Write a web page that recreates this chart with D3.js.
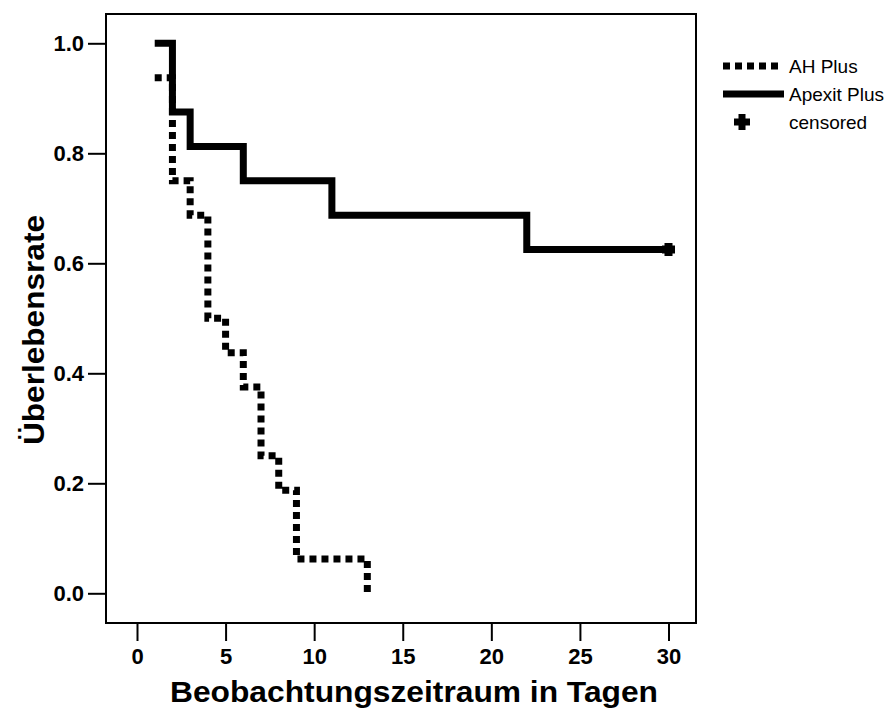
<!DOCTYPE html>
<html>
<head>
<meta charset="utf-8">
<script src="https://cdn.jsdelivr.net/npm/d3@7"></script>
<style>
  body { margin: 0; background: #fff; }
  svg { display: block; font-family: "Liberation Sans", Arial, sans-serif; }
</style>
</head>
<body>
<svg id="chart" width="890" height="708"></svg>
<script>
// ---- Data ----
const seriesNames = ["AH Plus", "Apexit Plus"];
const ahTimes = [1, 2, 3, 4, 5, 6, 7, 8, 9, 13];
const ahSurv  = [0.9375, 0.75, 0.6875, 0.5, 0.4375, 0.375, 0.25, 0.1875, 0.0625, 0.0];
const apTimes = [1, 2, 3, 6, 11, 22, 30];
const apSurv  = [1.0, 0.875, 0.8125, 0.75, 0.6875, 0.625, 0.625];
const apCensoredTimes = [30];
const apCensoredSurv  = [0.625];
const xTicks = [0, 5, 10, 15, 20, 25, 30];
const yTicks = [0.0, 0.2, 0.4, 0.6, 0.8, 1.0];
const xTitle = "Beobachtungszeitraum in Tagen";
const yTitle = "Überlebensrate";
const legendLabels = ["AH Plus", "Apexit Plus", "censored"];

// ---- Layout ----
const svg = d3.select("#chart");
const frame = { left: 106, top: 14, right: 696, bottom: 623 };
const x = d3.scaleLinear().domain([0, 30]).range([137, 668.5]);
const y = d3.scaleLinear().domain([0, 1]).range([593.3, 43.3]);
const font = "Liberation Sans, Arial, sans-serif";

// frame
svg.append("rect")
  .attr("x", frame.left).attr("y", frame.top)
  .attr("width", frame.right - frame.left).attr("height", frame.bottom - frame.top)
  .attr("fill", "none").attr("stroke", "#000").attr("stroke-width", 2);

// x axis
const xAxis = d3.axisBottom(x).tickValues(xTicks).tickFormat(d3.format("d"))
  .tickSize(18).tickPadding(7);
const gx = svg.append("g").attr("transform", `translate(0,${frame.bottom})`).call(xAxis);
gx.select(".domain").remove();
gx.selectAll(".tick line").attr("stroke", "#000").attr("stroke-width", 2);
gx.selectAll(".tick text").attr("font-size", 22).attr("font-weight", "bold")
  .attr("font-family", font).attr("fill", "#000");

// y axis
const yAxis = d3.axisLeft(y).tickValues(yTicks).tickFormat(d3.format(".1f"))
  .tickSize(18).tickPadding(4);
const gy = svg.append("g").attr("transform", `translate(${frame.left},0)`).call(yAxis);
gy.select(".domain").remove();
gy.selectAll(".tick line").attr("stroke", "#000").attr("stroke-width", 2);
gy.selectAll(".tick text").attr("font-size", 22).attr("font-weight", "bold")
  .attr("font-family", font).attr("fill", "#000");

// titles
svg.append("text").attr("x", 414).attr("y", 702)
  .attr("text-anchor", "middle").attr("font-size", 29).attr("font-weight", "bold")
  .attr("textLength", 488).attr("lengthAdjust", "spacingAndGlyphs")
  .text(xTitle);
svg.append("text").attr("transform", "translate(44,330) rotate(-90)")
  .attr("text-anchor", "middle").attr("font-size", 29).attr("font-weight", "bold")
  .attr("textLength", 230).attr("lengthAdjust", "spacingAndGlyphs")
  .text(yTitle);

// lines
const line = d3.line().x(d => x(d[0])).y(d => y(d[1])).curve(d3.curveStepAfter);
const ahData = d3.zip(ahTimes, ahSurv);
const apData = d3.zip(apTimes, apSurv);

svg.append("path").datum(apData).attr("d", line)
  .attr("fill", "none").attr("stroke", "#000").attr("stroke-width", 7)
  .attr("stroke-linejoin", "miter");
svg.append("path").datum(ahData).attr("d", line)
  .attr("fill", "none").attr("stroke", "#000").attr("stroke-width", 7)
  .attr("stroke-dasharray", "7,5").attr("stroke-linejoin", "miter");

// plus marker path
function plusPath(w, t) {
  const a = w / 2, b = t / 2;
  return `M${-b},${-a}H${b}V${-b}H${a}V${b}H${b}V${a}H${-b}V${b}H${-a}V${-b}H${-b}Z`;
}

// censored marks
svg.selectAll(".cens").data(d3.zip(apCensoredTimes, apCensoredSurv)).enter()
  .append("path").attr("class", "cens")
  .attr("transform", d => `translate(${x(d[0])},${y(d[1])})`)
  .attr("d", plusPath(13, 8)).attr("fill", "#000");

// legend
const lg = svg.append("g");
const rows = [66, 94, 122];
lg.append("line").attr("x1", 723).attr("x2", 780).attr("y1", rows[0]).attr("y2", rows[0])
  .attr("stroke", "#000").attr("stroke-width", 7).attr("stroke-dasharray", "7,5");
lg.append("line").attr("x1", 723).attr("x2", 784).attr("y1", rows[1]).attr("y2", rows[1])
  .attr("stroke", "#000").attr("stroke-width", 7);
lg.append("path").attr("transform", `translate(742,${rows[2]})`)
  .attr("d", plusPath(16, 7)).attr("fill", "#000");
lg.selectAll("text.lbl").data(legendLabels).enter().append("text").attr("class", "lbl")
  .attr("x", 789).attr("y", (d, i) => rows[i]).attr("dy", "0.35em")
  .attr("font-size", 19).text(d => d);
</script>
</body>
</html>
